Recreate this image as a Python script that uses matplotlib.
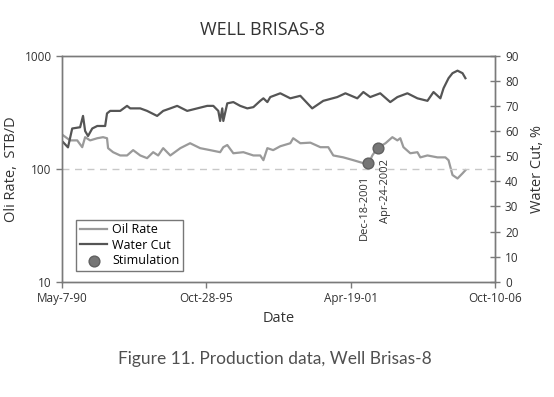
import pandas as pd
import matplotlib.pyplot as plt

# dates as decimal years
oil_years = [1990.39, 1990.65, 1990.92, 1991.11, 1991.22, 1991.41, 1991.68, 1991.90,
             1992.05, 1992.09, 1992.28, 1992.55, 1992.81, 1993.04, 1993.31, 1993.57,
             1993.80, 1993.99, 1994.18, 1994.45, 1994.83, 1995.20, 1995.58, 1995.96,
             1996.34, 1996.46, 1996.61, 1996.84, 1997.22, 1997.60, 1997.86, 1997.98,
             1998.13, 1998.35, 1998.62, 1999.00, 1999.11, 1999.38, 1999.76, 2000.14,
             2000.44, 2000.63, 2001.01, 2001.39, 2001.77, 2001.96, 2002.11, 2002.30,
             2002.61, 2002.87, 2003.06, 2003.17, 2003.29, 2003.55, 2003.82, 2003.93,
             2004.20, 2004.58, 2004.88, 2005.00, 2005.15, 2005.34, 2005.53, 2005.64]
oil_rate = [197, 178, 178, 155, 190, 178, 186, 190,
            186, 152, 140, 131, 131, 146, 131, 124,
            140, 131, 152, 131, 152, 168, 152, 146,
            140, 155, 162, 137, 140, 131, 131, 119,
            152, 146, 158, 168, 186, 168, 170, 155,
            155, 131, 126, 119, 112, 110, 131, 152,
            168, 190, 178, 186, 155, 137, 140, 126,
            131, 126, 126, 119, 88, 82, 91, 97]

wc_years = [1990.39, 1990.57, 1990.73, 1991.03, 1991.14, 1991.22, 1991.33, 1991.49,
            1991.68, 1991.98, 1992.05, 1992.17, 1992.55, 1992.81, 1992.93, 1993.31,
            1993.57, 1993.95, 1994.18, 1994.45, 1994.71, 1994.90, 1995.09, 1995.47,
            1995.85, 1996.08, 1996.27, 1996.34, 1996.42, 1996.46, 1996.61, 1996.84,
            1997.10, 1997.37, 1997.60, 1997.86, 1997.98, 1998.13, 1998.24, 1998.62,
            1999.00, 1999.38, 1999.83, 2000.25, 2000.78, 2001.09, 2001.54, 2001.77,
            2002.03, 2002.41, 2002.79, 2003.06, 2003.44, 2003.82, 2004.20, 2004.43,
            2004.69, 2004.81, 2005.00, 2005.15, 2005.34, 2005.53, 2005.64]
water_cut = [55.5, 53.5, 61, 61.5, 66, 60, 58, 61,
             62, 62, 67, 68, 68, 70, 69, 69,
             68, 66, 68, 69, 70, 69, 68, 69,
             70, 70, 68, 64, 69, 64, 71, 71.5,
             70, 69, 69.5, 72, 73, 71.5, 73.5, 75,
             73, 74, 69, 72, 73.5, 75, 73, 75.5,
             73.5, 75, 71.5, 73.5, 75, 73, 72, 75.5,
             73, 77, 81, 83, 84, 83, 81]

stim_dates = ["2001-12-18", "2002-04-24"]
stim_rate = [112, 152]
stim_labels = ["Dec-18-2001", "Apr-24-2002"]

tick_dates = ["1990-05-07", "1995-10-28", "2001-04-19", "2006-10-10"]
tick_labels = ["May-7-90", "Oct-28-95", "Apr-19-01", "Oct-10-06"]


def to_dates(years):
    return [pd.Timestamp("1990-01-01") + pd.Timedelta(days=(y - 1990) * 365.25) for y in years]


plt.rcParams['font.family'] = ['Open Sans', 'DejaVu Sans']
frame = '#7a7a7a'

fig = plt.figure(figsize=(5.54, 3.97), dpi=100)
ax = fig.add_axes([0.112, 0.29, 0.782, 0.57])
ax2 = ax.twinx()

ax.set_yscale('log')
ax.set_ylim(10, 1000)
ax.set_xlim(pd.Timestamp(tick_dates[0]), pd.Timestamp(tick_dates[-1]))
ax2.set_ylim(0, 90)

l1, = ax.plot(to_dates(oil_years), oil_rate, color='#9a9a9a', lw=1.6, label='Oil Rate')
l2, = ax2.plot(to_dates(wc_years), water_cut, color='#555555', lw=1.6, label='Water Cut')
ax.axhline(100, color='#c8c8c8', lw=1, ls=(0, (5, 4)))
s = ax.scatter(pd.to_datetime(stim_dates), stim_rate, s=60, color='#767676',
               edgecolor='#606060', zorder=5, label='Stimulation')

offsets = [-3, 6]
for d, r, lab, off in zip(stim_dates, stim_rate, stim_labels, offsets):
    ax.annotate(lab, (pd.Timestamp(d), r), xytext=(off, -8), textcoords='offset points',
                rotation=90, ha='center', va='top', fontsize=8, color='#333333')

ax.set_xticks(pd.to_datetime(tick_dates))
ax.set_xticklabels(tick_labels)
ax.set_yticks([10, 100, 1000])
ax.set_yticklabels(['10', '100', '1000'])
ax.yaxis.set_minor_locator(plt.NullLocator())
ax2.set_yticks(range(0, 91, 10))

ax.tick_params(axis='both', labelsize=8.5, colors=frame, labelcolor='#333333', length=4, width=1)
ax.tick_params(axis='x', direction='out')
ax2.tick_params(axis='y', direction='inout', length=7, labelsize=8.5, colors=frame,
                labelcolor='#333333', width=1)
for a in (ax, ax2):
    for sp in a.spines.values():
        sp.set_color(frame)
        sp.set_linewidth(1)

ax.set_ylabel('Oli Rate,  STB/D', fontsize=10.5, color='#333333', labelpad=4)
ax2.set_ylabel('Water Cut, %', fontsize=10.5, color='#333333', labelpad=8)
ax.set_xlabel('Date', fontsize=10.5, color='#333333', labelpad=4)

leg = ax.legend([l1, l2, s], ['Oil Rate', 'Water Cut', 'Stimulation'], loc='lower left',
                bbox_to_anchor=(0.018, 0.02), fontsize=9, frameon=True, fancybox=False,
                handlelength=2.2, handletextpad=0.4, borderpad=0.3, labelspacing=0.2)
leg.get_frame().set_edgecolor('#555555')
leg.get_frame().set_linewidth(1)

fig.text(0.474, 0.925, 'WELL BRISAS-8', ha='center', va='center', fontsize=13,
         color='#333333')
fig.text(0.496, 0.095, 'Figure 11. Production data, Well Brisas-8', ha='center',
         va='center', fontsize=12.5, color='#505050',
         family=['Lato', 'DejaVu Sans'])

fig.savefig('out.png', dpi=100)
